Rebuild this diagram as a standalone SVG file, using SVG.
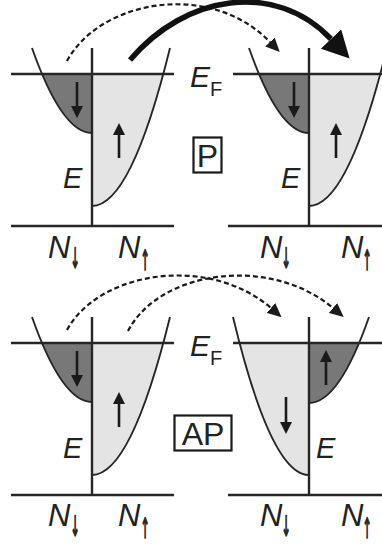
<svg xmlns="http://www.w3.org/2000/svg" width="382" height="544" viewBox="0 0 382 544">
<style>
.ln{fill:none;stroke:#262626;stroke-width:2.4}
.cv{fill:none;stroke:#262626;stroke-width:1.9}
.dk{fill:#787878}
.lt{fill:#e4e4e4}
.ar{fill:none;stroke:#1a1a1a;stroke-width:2.6;marker-end:url(#ah)}
.ds{fill:none;stroke:#1a1a1a;stroke-width:2.2;stroke-dasharray:5 3;marker-end:url(#dh)}
.th{fill:none;stroke:#111;stroke-width:5.5;marker-end:url(#bh)}
.it{font-family:"Liberation Sans",Arial,sans-serif;font-style:italic;fill:#222}
.up{font-family:"Liberation Sans",Arial,sans-serif;fill:#222}
.sub{font-style:normal}
.sa{font-family:"DejaVu Sans",sans-serif;font-size:20px;fill:#222;stroke:#222;stroke-width:1;text-anchor:middle;opacity:0.99}
.box{fill:none;stroke:#1a1a1a;stroke-width:2.2}
</style>
<defs>
<marker id="ah" markerUnits="userSpaceOnUse" markerWidth="13" markerHeight="12" refX="0" refY="6" orient="auto" viewBox="0 0 13 12"><path d="M0,0 L12,6 L0,12 Z" fill="#1a1a1a"/></marker>
<marker id="dh" markerUnits="userSpaceOnUse" markerWidth="15" markerHeight="13" refX="0" refY="6.5" orient="auto" viewBox="0 0 15 13"><path d="M0,0 L14,6.5 L0,13 Z" fill="#1a1a1a"/></marker>
<marker id="bh" markerUnits="userSpaceOnUse" markerWidth="28" markerHeight="28" refX="0" refY="14" orient="auto" viewBox="0 0 28 28"><path d="M0,0 L27,14 L0,28 Z" fill="#111"/></marker>
<clipPath id="ct"><rect x="0" y="74" width="382" height="200"/></clipPath>
<clipPath id="cb"><rect x="0" y="343" width="382" height="200"/></clipPath>
</defs>

<g id="panel-p-left">
<path class="dk" clip-path="url(#ct)" d="M92,133 Q62,133 32,48 L92,48 Z"/>
<path class="lt" clip-path="url(#ct)" d="M92,206 Q131,206 170,48 L92,48 Z"/>
<path class="cv" d="M92,133 Q62,133 32,48"/>
<path class="cv" d="M92,206 Q131,206 170,48"/>
<path class="ln" d="M11,74 H174 M11,226 H174 M92,48 V226"/>
<path class="ar" d="M77,82 V106"/>
<path class="ar" d="M119,158 V135"/>
<text class="it" x="63" y="188" font-size="29">E</text>
<text class="it" x="48" y="258" font-size="31">N</text>
<text class="sa" transform="translate(75,268) scale(0.55,1.4)">↓</text>
<text class="it" x="118" y="258" font-size="31">N</text>
<text class="sa" transform="translate(145,270) scale(0.55,1.4)">↑</text>
</g>

<g id="panel-p-right">
<path class="dk" clip-path="url(#ct)" d="M309,133 Q279,133 249,48 L309,48 Z"/>
<path class="lt" clip-path="url(#ct)" d="M309,206 Q348,206 387,48 L309,48 Z"/>
<path class="cv" d="M309,133 Q279,133 249,48"/>
<path class="cv" d="M309,206 Q348,206 387,48"/>
<path class="ln" d="M233,74 H382 M228,226 H382 M309,48 V226"/>
<path class="ar" d="M294,82 V106"/>
<path class="ar" d="M336,158 V135"/>
<text class="it" x="281" y="188" font-size="29">E</text>
<text class="it" x="260" y="258" font-size="31">N</text>
<text class="sa" transform="translate(286,268) scale(0.55,1.4)">↓</text>
<text class="it" x="341" y="258" font-size="31">N</text>
<text class="sa" transform="translate(367,270) scale(0.55,1.4)">↑</text>
</g>

<g id="label-ef-top">
<text class="it" x="190" y="87" font-size="30">E<tspan class="sub" font-size="20" dx="0" dy="9">F</tspan></text>
</g>
<g id="label-p">
<rect class="box" x="193.5" y="137.5" width="28" height="35"/>
<text class="up" x="207.5" y="167" font-size="32" text-anchor="middle">P</text>
</g>

<g id="panel-ap-left">
<path class="dk" clip-path="url(#cb)" d="M92,402 Q62,402 32,317 L92,317 Z"/>
<path class="lt" clip-path="url(#cb)" d="M92,475 Q131,475 170,317 L92,317 Z"/>
<path class="cv" d="M92,402 Q62,402 32,317"/>
<path class="cv" d="M92,475 Q131,475 170,317"/>
<path class="ln" d="M11,343 H174 M11,495 H174 M92,317 V495"/>
<path class="ar" d="M77,351 V375"/>
<path class="ar" d="M119,427 V404"/>
<text class="it" x="63" y="458" font-size="29">E</text>
<text class="it" x="48" y="526" font-size="31">N</text>
<text class="sa" transform="translate(75,536) scale(0.55,1.4)">↓</text>
<text class="it" x="118" y="526" font-size="31">N</text>
<text class="sa" transform="translate(145,538) scale(0.55,1.4)">↑</text>
</g>

<g id="panel-ap-right">
<path class="lt" clip-path="url(#cb)" d="M309,475 Q271,475 233,317 L309,317 Z"/>
<path class="dk" clip-path="url(#cb)" d="M309,403 Q339,403 369,317 L309,317 Z"/>
<path class="cv" d="M309,475 Q271,475 233,317"/>
<path class="cv" d="M309,403 Q339,403 369,317"/>
<path class="ln" d="M233,343 H382 M228,495 H382 M309,317 V495"/>
<path class="ar" d="M286,397 V422"/>
<path class="ar" d="M326,385 V362"/>
<text class="it" x="316" y="458" font-size="29">E</text>
<text class="it" x="260" y="526" font-size="31">N</text>
<text class="sa" transform="translate(286,536) scale(0.55,1.4)">↓</text>
<text class="it" x="341" y="526" font-size="31">N</text>
<text class="sa" transform="translate(367,538) scale(0.55,1.4)">↑</text>
</g>

<g id="label-ef-bottom">
<text class="it" x="190" y="356" font-size="30">E<tspan class="sub" font-size="20" dx="0" dy="9">F</tspan></text>
</g>
<g id="label-ap">
<rect class="box" x="174.5" y="415.5" width="57" height="35"/>
<text class="up" x="203" y="445" font-size="32" text-anchor="middle">AP</text>
</g>

<g id="connectors">
<path class="ds" d="M67,61 C100,0 210,-20 270,42"/>
<path class="th" d="M130,60 C185,-5 275,-20 331,39"/>
<path class="ds" d="M67,330 C100,270 210,255 271,308"/>
<path class="ds" d="M128,331 C160,270 270,255 333,308"/>
</g>
</svg>
